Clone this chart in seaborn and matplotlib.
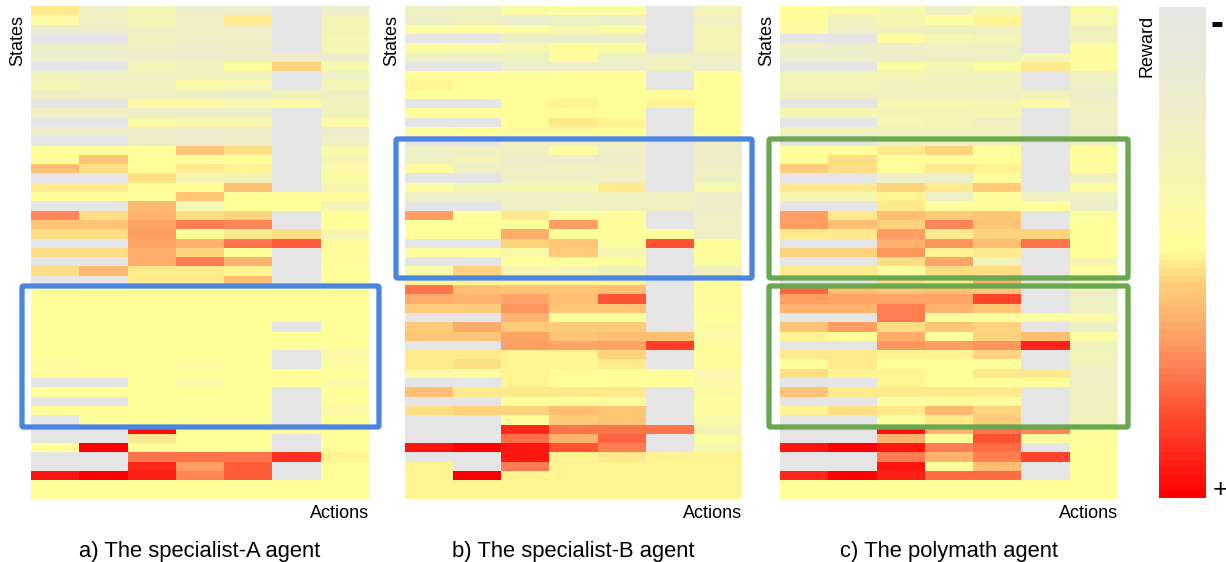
import numpy as np
import matplotlib
matplotlib.use('Agg')
import matplotlib.pyplot as plt
import seaborn as sns
from matplotlib.colors import LinearSegmentedColormap, FuncNorm
from matplotlib.patches import FancyBboxPatch

sns.set_theme(style='white')
plt.rcParams['font.family'] = ['Liberation Sans', 'DejaVu Sans']

# cell values (0 = grey, 100 = red)
specialist_a = [
    [58, 25, 35, 22, 22, 0, 20], [44, 25, 35, 25, 57, 0, 33], [18, 18, 25, 25, 22, 0, 33],
    [0, 0, 30, 25, 25, 0, 35], [20, 20, 25, 22, 22, 0, 35], [20, 20, 20, 20, 20, 22, 20],
    [0, 0, 32, 30, 47, 62, 38], [30, 25, 25, 28, 30, 0, 25], [35, 30, 30, 40, 38, 0, 35],
    [25, 25, 25, 25, 20, 28, 25], [0, 0, 42, 42, 38, 42, 30], [25, 25, 22, 22, 22, 0, 30],
    [0, 0, 42, 38, 38, 0, 42], [20, 20, 22, 20, 20, 0, 18], [0, 0, 20, 18, 20, 0, 25],
    [50, 47, 52, 66, 60, 0, 40], [50, 66, 50, 46, 50, 0, 36], [68, 60, 52, 58, 54, 0, 40],
    [0, 0, 60, 36, 33, 0, 42], [56, 56, 48, 50, 68, 0, 36], [48, 48, 49, 66, 50, 49, 47],
    [0, 0, 69, 34, 50, 49, 33], [80, 60, 70, 59, 62, 0, 51], [66, 66, 74, 82, 80, 0, 51],
    [60, 60, 76, 50, 58, 60, 36], [0, 0, 74, 70, 83, 87, 47], [60, 60, 72, 62, 52, 0, 47],
    [0, 0, 72, 82, 70, 0, 47], [60, 69, 58, 58, 53, 0, 48], [0, 0, 56, 58, 68, 0, 50],
    [51, 51, 51, 50, 51, 51, 50], [51, 51, 52, 51, 51, 51, 50], [51, 51, 51, 50, 51, 51, 50],
    [50, 51, 51, 50, 51, 51, 50], [49, 51, 51, 50, 50, 0, 50], [52, 51, 51, 50, 50, 50, 50],
    [50, 51, 52, 51, 50, 49, 50], [49, 50, 50, 50, 49, 0, 40], [46, 50, 50, 46, 49, 0, 46],
    [49, 50, 50, 49, 49, 50, 49], [0, 0, 48, 42, 48, 49, 44], [50, 50, 50, 49, 49, 0, 48],
    [0, 0, 50, 49, 50, 0, 49], [49, 49, 50, 49, 49, 0, 42], [0, 50, 50, 50, 50, 0, 52],
    [0, 0, 98, 50, 50, 50, 51], [0, 0, 58, 50, 50, 0, 50], [50, 100, 50, 50, 50, 0, 50],
    [0, 0, 84, 83, 84, 93, 53], [0, 0, 95, 76, 87, 0, 51], [97, 100, 96, 80, 87, 0, 50],
    [52, 52, 52, 52, 52, 52, 51], [52, 52, 52, 52, 52, 52, 51],
]
specialist_b = [
    [25, 28, 42, 45, 45, 0, 32], [22, 28, 20, 25, 22, 0, 25], [46, 46, 46, 38, 44, 0, 33],
    [0, 0, 20, 22, 22, 0, 32], [42, 40, 36, 47, 44, 0, 33], [24, 24, 28, 47, 25, 25, 25],
    [0, 0, 22, 22, 22, 28, 20], [52, 52, 47, 50, 50, 0, 50], [54, 50, 52, 52, 52, 0, 50],
    [48, 52, 50, 50, 48, 50, 50], [0, 0, 51, 54, 48, 53, 50], [48, 48, 50, 49, 49, 0, 50],
    [0, 0, 51, 56, 55, 0, 50], [47, 48, 45, 47, 48, 0, 49], [0, 0, 25, 25, 26, 0, 26],
    [25, 25, 26, 46, 24, 0, 20], [24, 32, 22, 19, 22, 0, 20], [47, 24, 24, 24, 26, 0, 24],
    [0, 0, 24, 24, 26, 0, 24], [46, 35, 35, 34, 56, 0, 38], [25, 25, 25, 25, 28, 28, 22],
    [0, 0, 24, 28, 28, 28, 22], [76, 49, 58, 46, 47, 0, 24], [49, 49, 49, 76, 47, 0, 24],
    [49, 50, 72, 48, 47, 47, 25], [0, 0, 62, 66, 45, 88, 47], [47, 47, 42, 64, 36, 0, 47],
    [0, 0, 48, 48, 47, 0, 47], [40, 62, 36, 34, 30, 0, 28], [55, 55, 55, 55, 55, 0, 50],
    [84, 68, 66, 66, 68, 0, 47], [72, 70, 74, 68, 88, 0, 47], [64, 64, 78, 66, 66, 0, 47],
    [0, 0, 70, 47, 47, 0, 50], [64, 72, 64, 64, 64, 0, 44], [66, 66, 74, 66, 68, 68, 44],
    [0, 0, 76, 75, 74, 91, 47], [58, 58, 54, 54, 62, 0, 47], [56, 60, 54, 54, 57, 0, 47],
    [42, 46, 54, 49, 52, 52, 38], [0, 0, 55, 48, 52, 52, 42], [68, 57, 58, 58, 58, 0, 42],
    [0, 0, 48, 48, 45, 0, 47], [60, 62, 62, 68, 66, 0, 45], [0, 0, 47, 64, 66, 0, 40],
    [0, 0, 94, 84, 84, 84, 33], [0, 0, 85, 70, 86, 0, 45], [97, 100, 97, 88, 82, 0, 38],
    [0, 0, 97, 53, 58, 54, 53], [54, 0, 82, 53, 53, 54, 54], [54, 100, 54, 54, 54, 54, 55],
    [54, 54, 54, 54, 54, 54, 55], [55, 55, 55, 55, 55, 55, 55],
]
polymath = [
    [47, 42, 38, 25, 36, 0, 42], [47, 30, 36, 46, 54, 0, 38], [44, 25, 28, 28, 26, 0, 28],
    [0, 0, 46, 34, 32, 0, 30], [25, 22, 22, 25, 28, 0, 46], [20, 22, 22, 25, 26, 34, 47],
    [0, 0, 44, 34, 46, 58, 46], [32, 32, 32, 30, 30, 0, 28], [32, 32, 30, 30, 30, 0, 25],
    [28, 28, 28, 26, 26, 30, 22], [0, 0, 36, 36, 36, 42, 26], [36, 36, 32, 32, 36, 0, 26],
    [0, 0, 34, 32, 26, 0, 26], [30, 30, 28, 28, 28, 0, 22], [0, 0, 26, 26, 26, 0, 24],
    [50, 52, 58, 62, 48, 0, 47], [48, 60, 48, 47, 48, 0, 47], [63, 60, 52, 56, 54, 0, 47],
    [0, 0, 24, 22, 51, 0, 28], [56, 56, 62, 56, 64, 0, 44], [36, 36, 55, 24, 47, 24, 24],
    [0, 0, 58, 47, 47, 48, 22], [76, 58, 68, 64, 65, 0, 46], [76, 68, 62, 80, 65, 0, 50],
    [58, 58, 76, 58, 62, 62, 50], [0, 0, 70, 78, 68, 84, 50], [62, 62, 78, 55, 56, 0, 50],
    [0, 0, 60, 75, 30, 0, 36], [58, 58, 46, 60, 60, 0, 46], [0, 0, 60, 58, 72, 0, 30],
    [86, 68, 66, 68, 66, 0, 26], [76, 74, 75, 74, 90, 0, 25], [70, 70, 82, 70, 66, 0, 26],
    [0, 0, 82, 45, 46, 46, 42], [66, 76, 60, 66, 62, 0, 25], [54, 50, 72, 46, 62, 68, 46],
    [0, 0, 77, 76, 78, 94, 30], [56, 58, 55, 54, 62, 0, 33], [47, 57, 50, 50, 47, 0, 28],
    [60, 54, 53, 52, 57, 56, 26], [0, 0, 53, 50, 48, 52, 27], [66, 58, 57, 57, 57, 0, 28],
    [0, 0, 46, 47, 46, 0, 28], [54, 60, 57, 69, 62, 0, 28], [0, 0, 48, 56, 63, 0, 30],
    [0, 0, 98, 70, 84, 80, 48], [0, 0, 70, 48, 88, 47, 47], [97, 100, 97, 82, 85, 0, 49],
    [0, 0, 82, 70, 82, 90, 49], [0, 0, 97, 47, 68, 0, 49], [95, 100, 96, 85, 85, 0, 49],
    [50, 50, 50, 50, 50, 50, 50], [50, 50, 50, 50, 50, 50, 50],
]
captions = ['a) The specialist-A agent', 'b) The specialist-B agent', 'c) The polymath agent']

W, H = 1226, 562
fig = plt.figure(figsize=(W / 100, H / 100), dpi=100)


def px_axes(x0, y0, x1, y1):
    # pixel box, y measured from the top of the picture
    return fig.add_axes([x0 / W, 1 - y1 / H, (x1 - x0) / W, (y1 - y0) / H])


# colour ramp as it looks on the colour bar
cmap = LinearSegmentedColormap.from_list('reward', [
    (0.0, '#e5e5e5'), (0.25, '#efefc2'), (0.49, '#ffff99'), (0.53, '#fee58a'),
    (0.56, '#fdd07c'), (0.63, '#ffb46e'), (0.70, '#ff9560'), (0.77, '#ff7048'),
    (0.83, '#ff5030'), (0.90, '#ff3020'), (1.0, '#ff0000')], N=64)

# my read values are not linear on the ramp, this bends them back
read_scale = [0, 50, 58, 60, 66, 76, 84, 88, 97, 100]
ramp_scale = [0, .49, .525, .545, .59, .68, .76, .82, .95, 1]
norm = FuncNorm((lambda v: np.interp(v, read_scale, ramp_scale),
                 lambda v: np.interp(v, ramp_scale, read_scale)), vmin=0, vmax=100)

panels = [specialist_a, specialist_b, polymath]
extents = [(31, 369), (405, 742), (780, 1118)]
cax = px_axes(1159, 7, 1206, 498)

for i, (vals, (x0, x1), cap) in enumerate(zip(panels, extents, captions)):
    ax = px_axes(x0, 6, x1, 499)
    sns.heatmap(np.array(vals), ax=ax, cmap=cmap, norm=norm, cbar=i == 0,
                cbar_ax=cax if i == 0 else None, xticklabels=False, yticklabels=False)
    fig.text((x0 - 13) / W, 1 - 15 / H, 'States', rotation=90, ha='center', va='top', fontsize=13, color='black')
    fig.text(x1 / W, 1 - 513 / H, 'Actions', ha='right', va='center', fontsize=13, color='black')
    fig.text((x0 + x1) / 2 / W, 1 - 551 / H, cap, ha='center', va='center', fontsize=15.8, color='black')

cax.invert_yaxis()
cax.set_yticks([])
cax.tick_params(length=0)
for spine in cax.spines.values():
    spine.set_visible(False)
fig.text(1147 / W, 1 - 15 / H, 'Reward', rotation=90, ha='center', va='top', fontsize=13, color='black')
fig.text(1217 / W, 1 - 25 / H, '-', ha='center', va='center', fontsize=28, fontweight='bold', color='black')
fig.text(1220 / W, 1 - 490 / H, '+', ha='center', va='center', fontsize=19, color='black')

# highlight boxes
blue = '#4a86e0'
green = '#6aa84f'
boxes = [(22, 286, 379, 427, blue), (396, 139, 752, 278, blue),
         (769, 139, 1128, 278, green), (769, 286, 1128, 427, green)]
for x0, y0, x1, y1, col in boxes:
    fig.add_artist(FancyBboxPatch((x0, H - y1), x1 - x0, y1 - y0, boxstyle='round,pad=0,rounding_size=1.5',
                                  fill=False, edgecolor=col, linewidth=3.8, transform=None))

fig.savefig('out.png', dpi=100)
